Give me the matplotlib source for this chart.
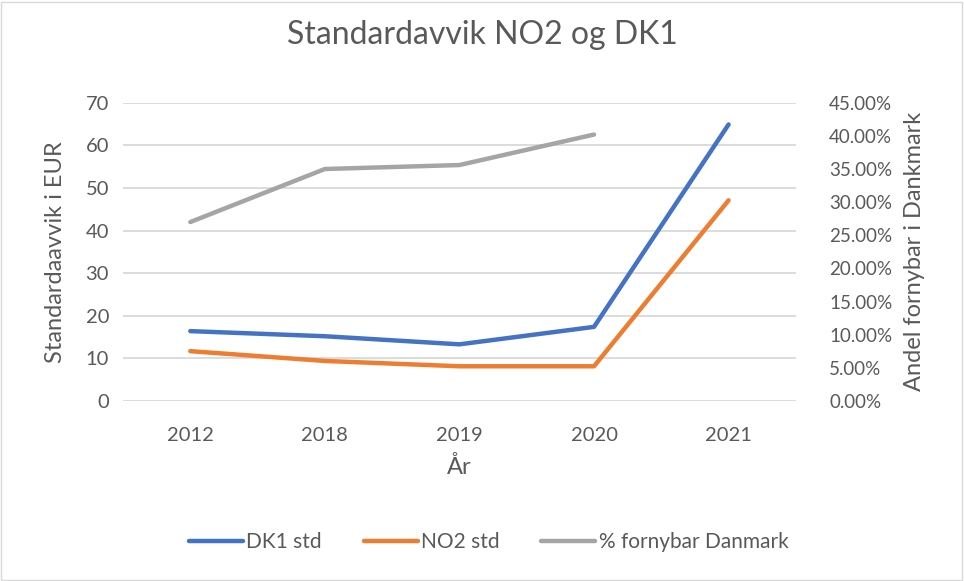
import matplotlib.pyplot as plt
from matplotlib.patches import Rectangle
from matplotlib.ticker import FuncFormatter, MultipleLocator

plt.rcParams['font.family'] = ['Lato', 'DejaVu Sans']

years = ['2012', '2018', '2019', '2020', '2021']
dk1_std = [16.4, 15.2, 13.3, 17.4, 64.9]
no2_std = [11.7, 9.4, 8.15, 8.15, 47.1]
fornybar_years = ['2012', '2018', '2019', '2020']
fornybar_pct = [0.270, 0.350, 0.356, 0.402]

text_col = '#595959'
grid_col = '#D9D9D9'

fig = plt.figure(figsize=(9.64, 5.81), dpi=100)
ax = fig.add_axes([0.1276, 0.3098, 0.698, 0.5134])
ax2 = ax.twinx()

x = list(range(len(years)))
l1, = ax.plot(x, dk1_std, color='#4472C4', lw=3.2, solid_capstyle='round', label='DK1 std')
l2, = ax.plot(x, no2_std, color='#ED7D31', lw=3.2, solid_capstyle='round', label='NO2 std')
l3, = ax2.plot(x[:len(fornybar_pct)], fornybar_pct, color='#A5A5A5', lw=3.2,
               solid_capstyle='round', label='% fornybar Danmark')

ax.set_xlim(-0.5, len(years) - 0.5)
ax.set_ylim(0, 70)
ax2.set_ylim(0, 0.45)
ax.yaxis.set_major_locator(MultipleLocator(10))
ax2.yaxis.set_major_locator(MultipleLocator(0.05))
ax2.yaxis.set_major_formatter(FuncFormatter(lambda v, p: f'{v*100:.2f}%'))

ax.set_xticks(x)
ax.set_xticklabels(years)
ax.grid(axis='y', color=grid_col, lw=1.3)
ax.set_axisbelow(True)

for a in (ax, ax2):
    for s in a.spines.values():
        s.set_visible(False)
    a.tick_params(length=0, labelsize=14.5, colors=text_col)
ax2.tick_params(axis='y', labelsize=13.5)
ax.tick_params(axis='x', pad=19)
ax.tick_params(axis='y', pad=10)
ax2.tick_params(axis='y', pad=24)

ax.set_ylabel('Standardaavvik i EUR', fontsize=17, color=text_col, labelpad=14)
ax2.set_ylabel('Andel fornybar i Dankmark', fontsize=17, color=text_col, labelpad=8)
ax.set_xlabel('År', fontsize=17, color=text_col, labelpad=8)

fig.suptitle('Standardavvik NO2 og DK1', fontsize=23, color=text_col, y=0.965)

fig.legend(handles=[l1, l2, l3], loc='center', bbox_to_anchor=(0.507, 0.067), ncol=3,
           frameon=False, fontsize=15, labelcolor=text_col, handlelength=2.6,
           handletextpad=0.15, columnspacing=2.0)

fig.patches.append(Rectangle((0.001, 0.002), 0.997, 0.995, transform=fig.transFigure,
                             fill=False, edgecolor=grid_col, lw=1))

fig.savefig('out.png', dpi=100)
